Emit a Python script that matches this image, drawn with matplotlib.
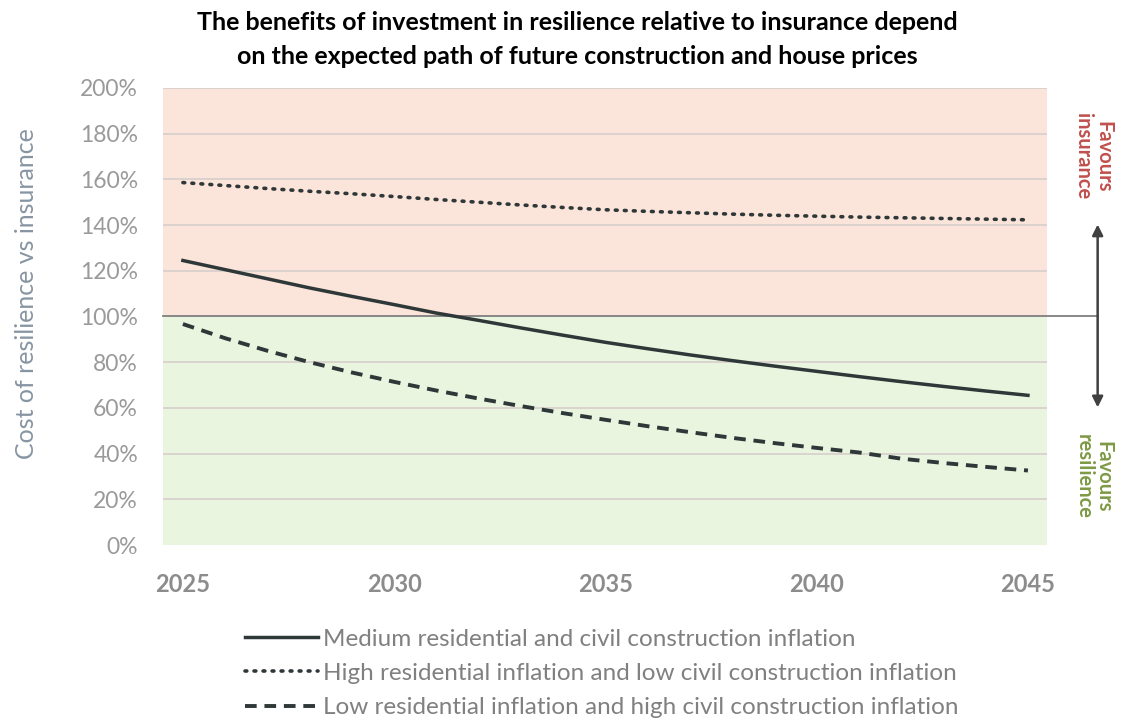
import numpy as np
import matplotlib.pyplot as plt

plt.rcParams['font.family'] = ['Lato', 'DejaVu Sans']

years = np.arange(2025, 2046)

# cost of resilience vs insurance, %
medium = [124.5, 120.5, 116.5, 112.5, 108.8, 105.2, 101.5, 98.3, 95.0, 91.8, 88.7,
          85.9, 83.2, 80.7, 78.3, 76.0, 73.7, 71.5, 69.4, 67.4, 65.5]
high_res = [158.6, 157.3, 156.0, 154.8, 153.7, 152.5, 151.2, 150.0, 148.8, 147.7, 146.7,
            146.0, 145.4, 144.8, 144.3, 143.9, 143.5, 143.2, 142.9, 142.6, 142.3]
low_res = [96.7, 90.5, 85.0, 80.0, 75.5, 71.4, 67.6, 64.1, 60.8, 57.7, 54.8,
           52.0, 49.4, 46.9, 44.6, 42.5, 40.5, 37.8, 35.9, 34.2, 32.6]

labels = ['Medium residential and civil construction inflation',
          'High residential inflation and low civil construction inflation',
          'Low residential inflation and high civil construction inflation']

line_col = '#2f3838'
grey = '#8c8c8c'

fig = plt.figure(figsize=(11.26, 7.24), dpi=100)
ax = fig.add_axes([0.1448, 0.2472, 0.785, 0.6313])

ax.axhspan(100, 200, color='#fbe4da', zorder=0)
ax.axhspan(0, 100, color='#eaf5e0', zorder=0)
for v in range(20, 201, 20):
    if v != 100:
        ax.axhline(v, color='#d6cfcb', lw=1.2, zorder=1)

l1, = ax.plot(years, medium, color=line_col, lw=2.5, zorder=3)
l2, = ax.plot(years, high_res, color=line_col, lw=2.6, linestyle=(0, (0.5, 2.0)),
              dash_capstyle='round', zorder=3)
l3, = ax.plot(years, low_res, color=line_col, lw=2.8, linestyle=(0, (3, 2)), zorder=3)

ax.set_xlim(2024.53, 2045.45)
ax.set_ylim(0, 200)
ax.set_xticks([2025, 2030, 2035, 2040, 2045])
ax.set_yticks(range(0, 201, 20))
ax.set_yticklabels([f'{v}%' for v in range(0, 201, 20)])
ax.tick_params(axis='y', length=0, labelsize=16.5, labelcolor='#9a9a9a', pad=18)
ax.tick_params(axis='x', length=0, labelsize=17, labelcolor=grey, pad=20)
for t in ax.get_xticklabels():
    t.set_fontweight('bold')
for s in ax.spines.values():
    s.set_visible(False)

ax.set_ylabel('Cost of resilience vs insurance', fontsize=18, color='#8795a3')
ax.yaxis.set_label_coords(-0.142, 0.55)

# 100% line running out to the arrow
ax.plot([2024.53, 2046.65], [100, 100], color='#7f7f7f', lw=1.3, clip_on=False, zorder=2)
ax.annotate('', xy=(2046.65, 141.5), xytext=(2046.65, 59),
            arrowprops=dict(arrowstyle='<|-|>', color='#404040', lw=1.8,
                            mutation_scale=16), annotation_clip=False)
ax.text(2046.55, 170, 'Favours\ninsurance', rotation=-90, color='#c0504d',
        fontsize=14.5, ha='center', va='center', linespacing=1.0, fontweight='bold')
ax.text(2046.55, 30, 'Favours\nresilience', rotation=-90, color='#7f9a45',
        fontsize=14.5, ha='center', va='center', linespacing=1.0, fontweight='bold')

fig.text(0.513, 0.985, 'The benefits of investment in resilience relative to insurance depend\n'
         'on the expected path of future construction and house prices',
         ha='center', va='top', fontsize=18, fontweight='bold', linespacing=1.6)

leg = fig.legend([l1, l2, l3], labels, loc='upper left', bbox_to_anchor=(0.198, 0.162),
                 frameon=False, fontsize=17.5, handlelength=3.0, handletextpad=0.2,
                 labelspacing=0.55, labelcolor='#808080')

fig.savefig('out.png', dpi=100)
